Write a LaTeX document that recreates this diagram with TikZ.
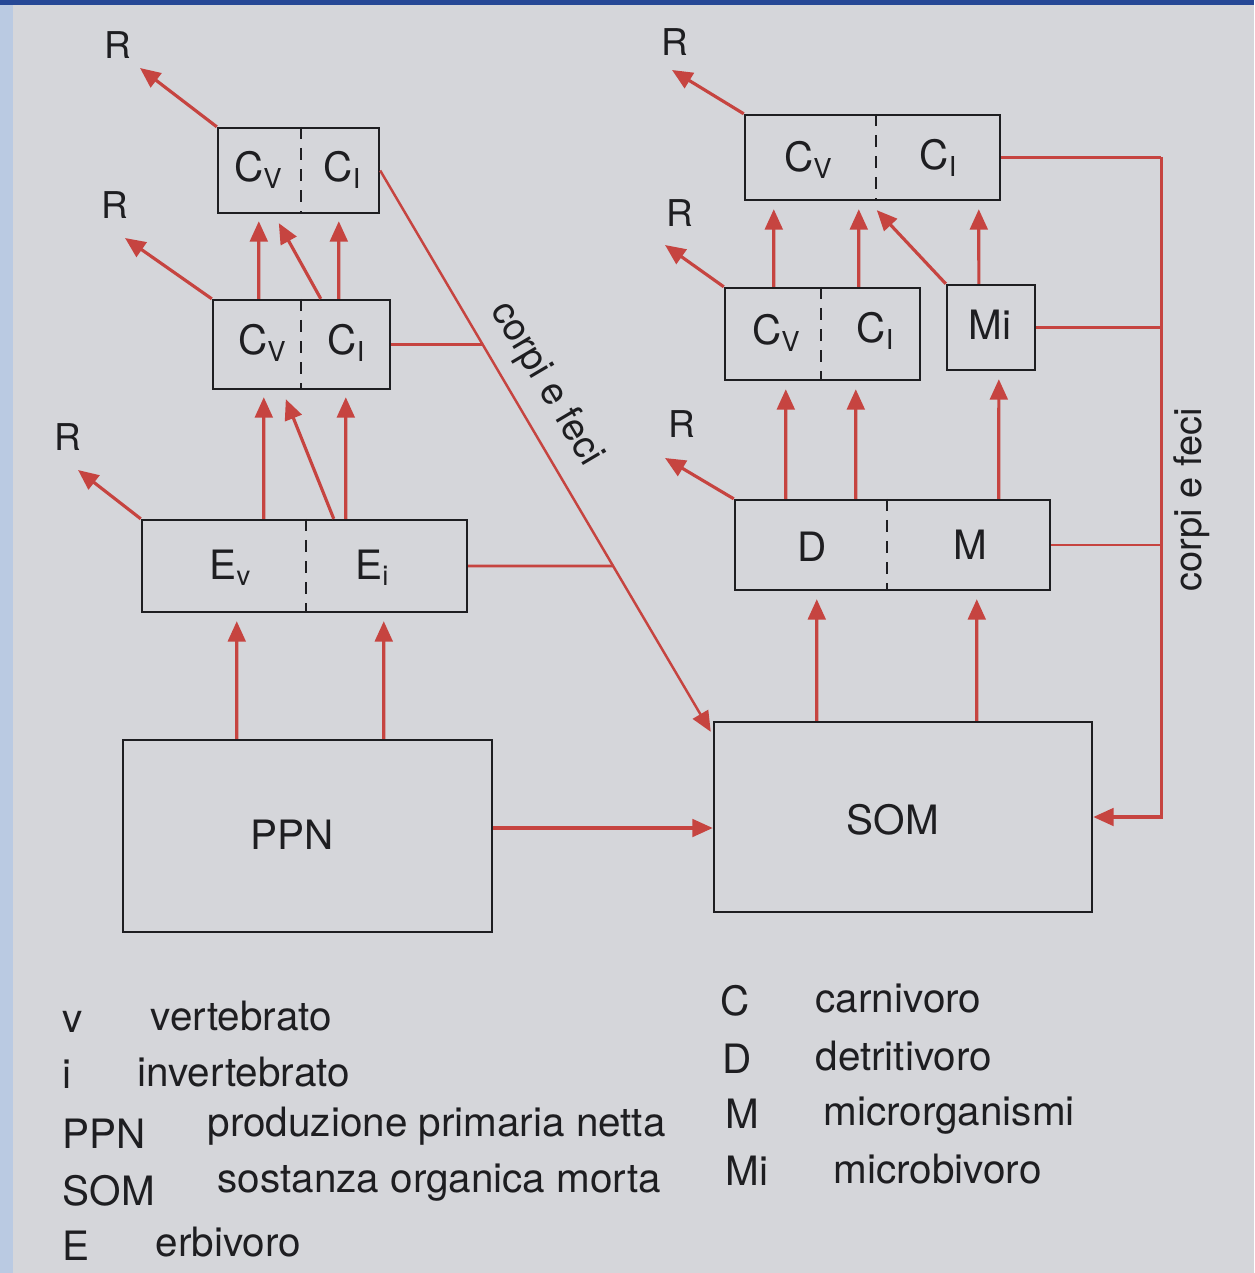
\documentclass[tikz,border=0pt]{standalone}
\usepackage{fontspec}
\setmainfont{TeX Gyre Heros}
\usetikzlibrary{arrows.meta,calc}
\definecolor{redl}{RGB}{198,68,64}
\definecolor{pagebg}{RGB}{213,214,218}
\definecolor{ink}{RGB}{30,30,33}
\definecolor{stripb}{RGB}{186,202,226}
\definecolor{topb}{RGB}{38,72,150}
\newcommand{\lowsub}[1]{\raisebox{-0.3ex}{\fontsize{7.8}{9}\selectfont #1}}
\begin{document}
\begin{tikzpicture}[x=0.01cm,y=-0.01cm,
  bx/.style={draw=ink, line width=0.65pt, inner sep=0pt},
  lbl/.style={text=ink, font=\fontsize{11.5}{13}\selectfont, inner sep=0pt},
  rl/.style={text=ink, font=\fontsize{10.5}{12}\selectfont, inner sep=0pt},
  leg/.style={text=ink, font=\fontsize{11.5}{13}\selectfont, inner sep=0pt, anchor=base west},
  arr/.style={draw=redl, line width=0.9pt, -{Triangle[length=5.8pt,width=5pt]}},
  rline/.style={draw=redl, line width=0.75pt},
  divl/.style={draw=ink, line width=0.55pt, dash pattern=on 3.5pt off 2.5pt}]

\fill[pagebg] (0,0) rectangle (1254,1273);
\fill[stripb] (0,0) rectangle (13,1273);
\fill[topb] (0,0) rectangle (1254,5);
\useasboundingbox (0,0) rectangle (1254,1273);

% ---- boxes ----
\node[bx, minimum width=1.61cm, minimum height=0.85cm] (lct) at (298.5,170.5) {};
\node[bx, minimum width=1.77cm, minimum height=0.89cm] (lcm) at (301.5,344.5) {};
\node[bx, minimum width=3.25cm, minimum height=0.92cm] (le) at (304.5,566) {};
\node[bx, minimum width=3.69cm, minimum height=1.92cm] (ppn) at (307.5,836) {};
\node[bx, minimum width=2.55cm, minimum height=0.85cm] (rct) at (872.5,157.5) {};
\node[bx, minimum width=1.95cm, minimum height=0.92cm] (rcm) at (822.5,334) {};
\node[bx, minimum width=0.88cm, minimum height=0.85cm] (mi) at (991,327.5) {};
\node[bx, minimum width=3.15cm, minimum height=0.90cm] (dm) at (892.5,545) {};
\node[bx, minimum width=3.78cm, minimum height=1.90cm] (som) at (903,817) {};

% dividers
\draw[divl] ($(lct.north west)+(84,0)$) -- ($(lct.south west)+(84,0)$);
\draw[divl] ($(lcm.north west)+(89,0)$) -- ($(lcm.south west)+(89,0)$);
\draw[divl] ($(le.north west)+(165,0)$) -- ($(le.south west)+(165,0)$);
\draw[divl] ($(rct.north west)+(132,0)$) -- ($(rct.south west)+(132,0)$);
\draw[divl] ($(rcm.north west)+(97,0)$) -- ($(rcm.south west)+(97,0)$);
\draw[divl] ($(dm.north west)+(153,0)$) -- ($(dm.south west)+(153,0)$);

% box labels
\node[lbl] (t1) at (258,170) {C\lowsub{V}};
\node[lbl] (t2) at (342,170) {C\lowsub{I}};
\node[lbl] (t3) at (262,343) {C\lowsub{V}};
\node[lbl] (t4) at (346,343) {C\lowsub{I}};
\node[lbl] (t5) at (230,568) {E\lowsub{v}};
\node[lbl] (t6) at (372,568) {E\lowsub{i}};
\node[lbl] (t7) at (292,835) {PPN};
\node[lbl] (t8) at (808,160) {C\lowsub{V}};
\node[lbl] (t9) at (938,158) {C\lowsub{I}};
\node[lbl] (t10) at (776,333) {C\lowsub{V}};
\node[lbl] (t11) at (875,331) {C\lowsub{I}};
\node[lbl] (t12) at (990,325) {Mi};
\node[lbl] (t13) at (812,547) {D};
\node[lbl] (t14) at (970,545) {M};
\node[lbl] (t15) at (893,820) {SOM};

% ---- R arrows ----
\node[rl] (r1) at (118,45) {R};
\node[rl] (r2) at (115,205) {R};
\node[rl] (r3) at (68,437) {R};
\node[rl] (r4) at (675,42) {R};
\node[rl] (r5) at (680,213) {R};
\node[rl] (r6) at (682,424) {R};
\draw[arr] (lct.north west) -- ($(r1)+(22,23)$);
\draw[arr] (lcm.north west) -- ($(r2)+(10,33)$);
\draw[arr] (le.north west) -- ($(r3)+(10,33)$);
\draw[arr] (rct.north west) -- ($(r4)+(-3,28)$);
\draw[arr] (rcm.north west) -- ($(r5)+(-15,32)$);
\draw[arr] (dm.north west) -- ($(r6)+(-17,34)$);

% ---- left column flows ----
\draw[arr] ($(lcm.north west)+(47,0)$) -- ($(lct.south west)+(42,7)$);
\draw[arr] ($(lcm.north west)+(109,0)$) -- ($(lct.south west)+(62,9)$);
\draw[arr] ($(lcm.north west)+(127,0)$) -- ($(lct.south west)+(122,7)$);
\draw[arr] ($(le.north west)+(123,0)$) -- ($(lcm.south west)+(52,7)$);
\draw[arr] ($(le.north west)+(193,0)$) -- ($(lcm.south west)+(74,9)$);
\draw[arr] ($(le.north west)+(205,0)$) -- ($(lcm.south west)+(134,7)$);
\draw[arr] ($(ppn.north west)+(115,0)$) -- ($(le.south west)+(96,8)$);
\draw[arr] ($(ppn.north west)+(262,0)$) -- ($(le.south west)+(243,8)$);

% ---- right column flows ----
\draw[arr] ($(rcm.north west)+(50,0)$) -- ($(rct.south west)+(30,8)$);
\draw[arr] ($(rcm.north west)+(135,0)$) -- ($(rct.south west)+(115,8)$);
\draw[arr] (mi.north west) -- ($(rct.south west)+(133,9)$);
\draw[arr] ($(mi.north west)+(33,0)$) -- ($(rct.south west)+(235,8)$);
\draw[arr] ($(dm.north west)+(52,0)$) -- ($(rcm.south west)+(62,8)$);
\draw[arr] ($(dm.north west)+(122,0)$) -- ($(rcm.south west)+(132,8)$);
\draw[arr] ($(dm.north west)+(265,0)$) -- ($(mi.south west)+(53,8)$);
\draw[arr] ($(som.north west)+(104,0)$) -- ($(dm.south west)+(83,8)$);
\draw[arr] ($(som.north west)+(264,0)$) -- ($(dm.south west)+(243,8)$);

% PPN -> SOM
\draw[arr] ($(ppn.east)+(0,-8)$) coordinate (pe) -- (pe -| som.west);

% ---- corpi e feci (diagonal) ----
\coordinate (dtip) at ($(som.north west)+(-2,11)$);
\draw[arr, line width=0.7pt] (lct.east) -- (dtip);
\coordinate (h1) at ($(lcm.east)+(200,0)$);
\draw[rline] (lcm.east) -- (intersection of lct.east--dtip and lcm.east--h1);
\coordinate (h2) at ($(le.east)+(300,0)$);
\draw[rline] (le.east) -- (intersection of lct.east--dtip and le.east--h2);
\node[text=ink, inner sep=0pt, font=\fontsize{10.8}{12}\selectfont, rotate=-59.4] (cf1) at (546,384) {corpi e feci};

% ---- corpi e feci (right bus) ----
\coordinate (bt) at ($(rct.east)+(160,0)$);
\draw[rline] (rct.east) -- (bt);
\draw[arr] (bt) -- (bt |- som.east) -- (som.east);
\draw[rline] (mi.east) -- (mi.east -| bt);
\draw[rline] (dm.east) -- (dm.east -| bt);
\node[text=ink, inner sep=0pt, font=\fontsize{10.8}{12}\selectfont, rotate=90] (cf2) at (1192,500) {corpi e feci};

% ---- legend ----
\node[leg] (lv) at (62,1032) {v};
\node[leg] (lvt) at (150,1030) {vertebrato};
\node[leg] (li) at (62,1088) {i};
\node[leg] (lit) at (137,1086) {invertebrato};
\node[leg] (lp) at (62,1148) {PPN};
\node[leg] (lpt) at (207,1136) {produzione primaria netta};
\node[leg] (ls) at (62,1205) {SOM};
\node[leg] (lst) at (217,1192) {sostanza organica morta};
\node[leg] (lE) at (62,1260) {E};
\node[leg] (lEt) at (155,1256) {erbivoro};
\node[leg] (lC) at (720,1015) {C};
\node[leg] (lCt) at (815,1012) {carnivoro};
\node[leg] (lD) at (722,1073) {D};
\node[leg] (lDt) at (815,1070) {detritivoro};
\node[leg] (lM) at (725,1128) {M};
\node[leg] (lMt) at (823,1125) {microrganismi};
\node[leg] (lMi) at (725,1185) {Mi};
\node[leg] (lMit) at (833,1183) {microbivoro};
\end{tikzpicture}
\end{document}
